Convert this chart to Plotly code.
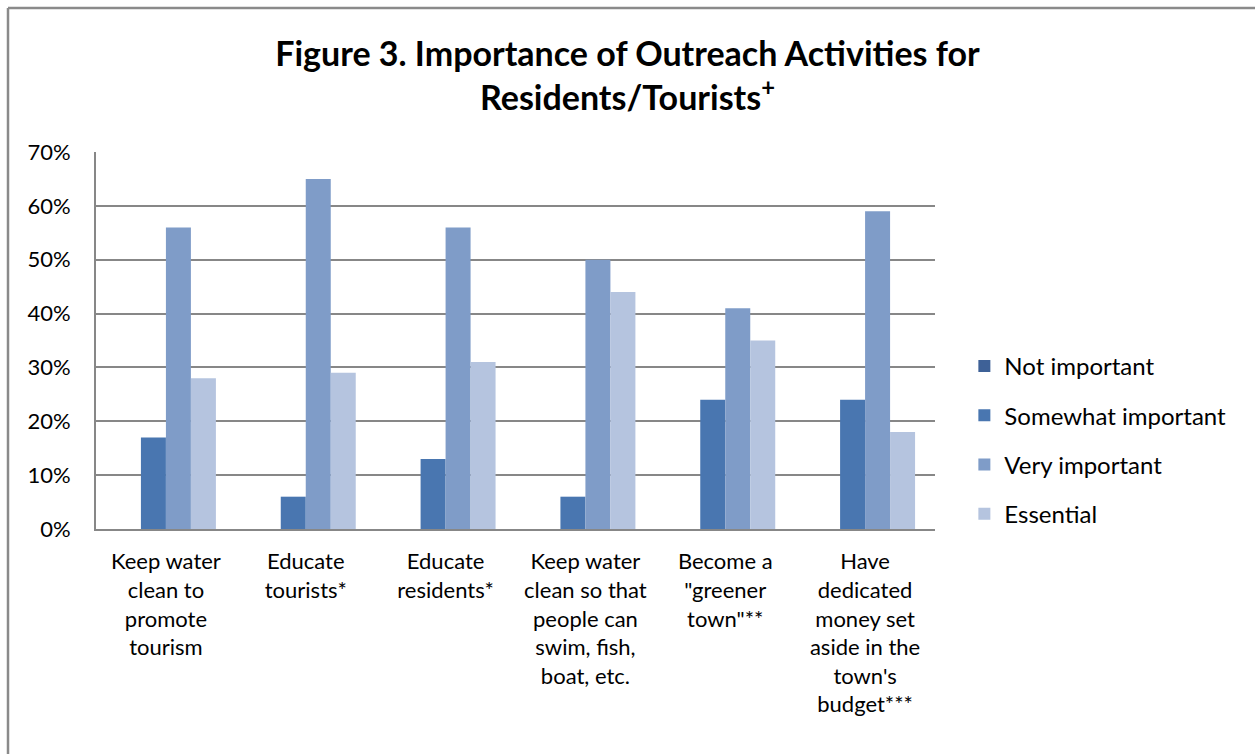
import plotly.graph_objects as go

# Outreach activities (x categories) and share of respondents per rating
categories = [
    "Keep water<br>clean to<br>promote<br>tourism",
    "Educate<br>tourists*",
    "Educate<br>residents*",
    "Keep water<br>clean so that<br>people can<br>swim, fish,<br>boat, etc.",
    "Become a<br>\"greener<br>town\"**",
    "Have<br>dedicated<br>money set<br>aside in the<br>town's<br>budget***",
]
not_important = [0, 0, 0, 0, 0, 0]
somewhat_important = [17, 6, 13, 6, 24, 24]
very_important = [56, 65, 56, 50, 41, 59]
essential = [28, 29, 31, 44, 35, 18]

y_ticks = [0, 10, 20, 30, 40, 50, 60, 70]
y_tick_labels = [f"{v}%" for v in y_ticks]

series = [
    ("Not important", not_important, "#3E6197"),
    ("Somewhat important", somewhat_important, "#4976B0"),
    ("Very important", very_important, "#7F9CC8"),
    ("Essential", essential, "#B5C4DF"),
]

FONT = "Lato, Calibri, Carlito, sans-serif"
GRID = "#878787"

W, H = 1255, 754
ML, MR, MT, MB = 96, 320, 152, 225
PW, PH = W - ML - MR, H - MT - MB

fig = go.Figure()
for i, (name, vals, color) in enumerate(series):
    fig.add_trace(go.Bar(
        name=name,
        x=categories,
        y=vals,
        marker=dict(color=color, line=dict(width=0)),
        legendgroup=f"g{i}",
    ))

# outer chart frame: left and top edges, 8px in from the page corner
fx = (8 - ML) / PW
fy = (H - 8 - MB) / PH
frame = dict(color="#8a8a8a", width=2.5)

fig.update_layout(
    width=W,
    height=H,
    barmode="group",
    bargap=0.285,
    bargroupgap=0,
    paper_bgcolor="white",
    plot_bgcolor="white",
    margin=dict(l=ML, r=MR, t=MT, b=MB),
    font=dict(family=FONT, size=22, color="#000000"),
    title=dict(
        text="Figure 3. Importance of Outreach Activities for<br>Residents/Tourists<sup>+</sup>",
        x=0.5,
        xanchor="center",
        y=0.913,
        yanchor="top",
        font=dict(family=FONT, size=34, color="#000000", weight="bold"),
    ),
    legend=dict(
        x=1.035,
        xanchor="left",
        y=(529 - 440) / PH,
        yanchor="middle",
        font=dict(family=FONT, size=24, color="#000000"),
        traceorder="grouped",
        tracegroupgap=15,
        itemwidth=30,
        bgcolor="rgba(0,0,0,0)",
    ),
    showlegend=True,
    xaxis=dict(
        showline=True,
        linecolor=GRID,
        linewidth=2,
        showgrid=False,
        ticks="",
        tickfont=dict(family=FONT, size=22),
        ticklabelstandoff=12,
    ),
    yaxis=dict(
        range=[0, 70],
        tickvals=y_ticks,
        ticktext=y_tick_labels,
        showline=True,
        linecolor=GRID,
        linewidth=2,
        showgrid=True,
        gridcolor=GRID,
        gridwidth=1.5,
        zeroline=False,
        ticks="",
        tickfont=dict(family=FONT, size=22),
        ticklabelstandoff=19,
    ),
    shapes=[
        dict(type="line", xref="paper", yref="paper",
             x0=fx, x1=fx, y0=-MB / PH, y1=fy, line=frame),
        dict(type="line", xref="paper", yref="paper",
             x0=fx, x1=(W - ML) / PW, y0=fy, y1=fy, line=frame),
    ],
)

fig.write_html("out.html")
